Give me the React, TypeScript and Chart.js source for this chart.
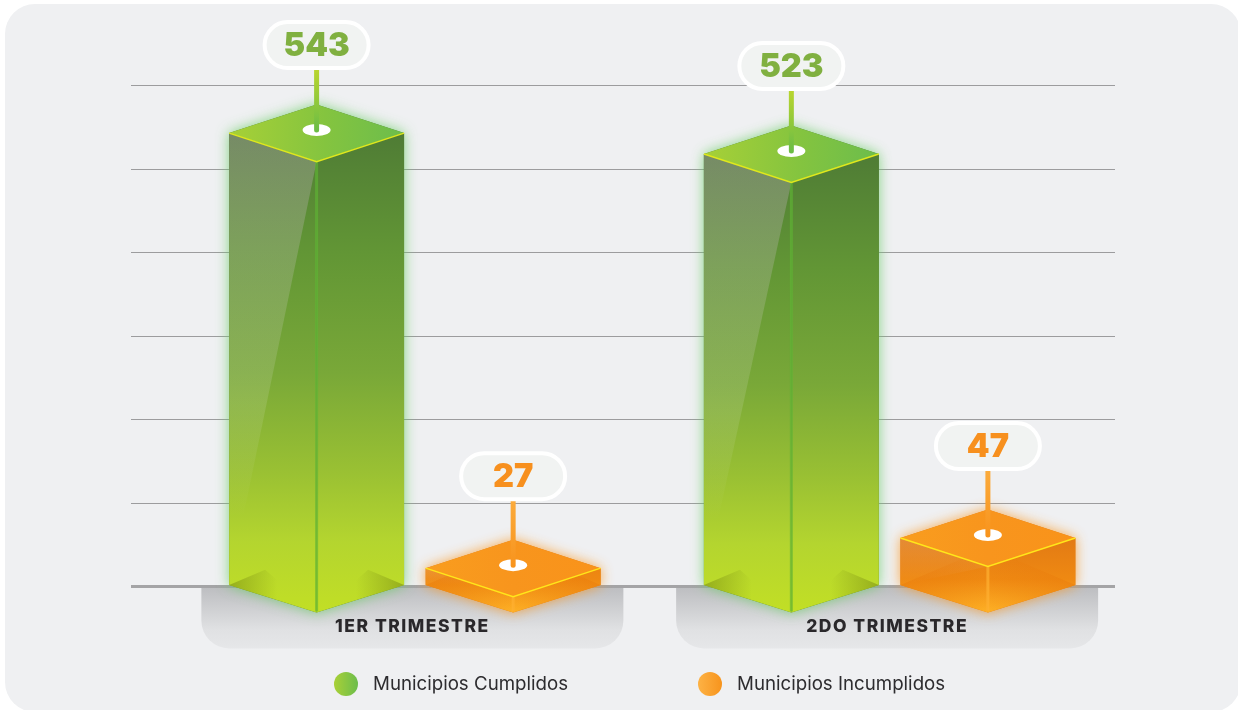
import React, { useEffect, useRef } from "react";
import { Chart, registerables } from "chart.js";

Chart.register(...registerables);

const categories = ["1ER TRIMESTRE", "2DO TRIMESTRE"];
const seriesNames = ["Municipios Cumplidos", "Municipios Incumplidos"];
// printed on the pins
const cumplidosLabels = [543, 523];
const incumplidosLabels = [27, 47];
// drawn heights as read against the gridlines
const cumplidosHeights = [543, 518];
const incumplidosHeights = [22, 58];
const yTicksMax = 600;
const yTickStep = 100;

const FONT = "Inter, 'Noto Sans', sans-serif";

type Ramp = [number, string][];
interface Look {
  ramp: Ramp;
  rampSpan: number | null;
  top: Ramp;
  glow: string;
  topEdge: string;
  spine: string;
  corner: string;
  cornerReach: number;
  text: string;
  stem: Ramp;
  pillRise: number;
  glare: Ramp | null;
}

const greenLook: Look = {
  ramp: [[0, "#4f7c35"], [0.25, "#629635"], [0.5, "#79a838"], [0.7, "#99c033"], [0.85, "#b4d52f"], [1, "#c2df25"]],
  rampSpan: null,
  top: [[0, "#a7d037"], [0.55, "#84c43f"], [1, "#6cbd4c"]],
  glow: "rgba(105,205,100,0.8)",
  topEdge: "#e0e81c",
  spine: "rgba(96,182,52,0.65)",
  corner: "rgba(125,145,20,0.6)",
  cornerReach: 48,
  text: "#80b040",
  stem: [[0, "#b9d52f"], [1, "#6cbd45"]],
  pillRise: 63.5,
  glare: [[0, "rgba(225,180,235,0.27)"], [0.6, "rgba(232,236,222,0.14)"], [0.85, "rgba(232,236,222,0)"]],
};

const orangeLook: Look = {
  ramp: [[0, "#e27a14"], [0.55, "#ef8912"], [1, "#feb226"]],
  rampSpan: 76,
  top: [[0, "#f99d1e"], [0.5, "#f8951d"], [1, "#f9931a"]],
  glow: "rgba(250,150,30,0.8)",
  topEdge: "#ffe61a",
  spine: "rgba(255,176,50,0.7)",
  corner: "rgba(232,120,10,0.42)",
  cornerReach: 87,
  text: "#f7901e",
  stem: [[0, "#fbab3c"], [1, "#f8941d"]],
  pillRise: 67.5,
  glare: [[0, "rgba(235,200,170,0.22)"], [1, "rgba(235,200,170,0)"]],
};

const looks = [greenLook, orangeLook];
const printed = [cumplidosLabels, incumplidosLabels];

function vGrad(ctx: CanvasRenderingContext2D, y0: number, y1: number, ramp: Ramp) {
  const g = ctx.createLinearGradient(0, y0, 0, y1);
  ramp.forEach(([o, c]) => g.addColorStop(o, c));
  return g;
}
function hGrad(ctx: CanvasRenderingContext2D, x0: number, x1: number, ramp: Ramp) {
  const g = ctx.createLinearGradient(x0, 0, x1, 0);
  ramp.forEach(([o, c]) => g.addColorStop(o, c));
  return g;
}
function poly(ctx: CanvasRenderingContext2D, pts: number[][]) {
  ctx.beginPath();
  pts.forEach(([x, y], i) => (i ? ctx.lineTo(x, y) : ctx.moveTo(x, y)));
  ctx.closePath();
}

function drawPrism(ctx: CanvasRenderingContext2D, cx: number, top: number, base: number, w: number, look: Look, label: number) {
  const hw = w / 2;
  const d = 28.5;
  const L = cx - hw;
  const R = cx + hw;
  const silhouette = [[L, top], [cx, top - d], [R, top], [R, base], [cx, base + d - 1], [L, base]];

  ctx.save();
  ctx.shadowColor = look.glow;
  ctx.shadowBlur = 13;
  ctx.fillStyle = look.ramp[0][1];
  poly(ctx, silhouette);
  ctx.fill();
  ctx.restore();

  // side faces
  const faceTop = look.rampSpan ? base + d - look.rampSpan : top;
  const faces = vGrad(ctx, faceTop, base + d, look.ramp);
  ctx.fillStyle = faces;
  poly(ctx, [[L, top], [cx, top + d], [cx, base + d - 1], [L, base]]);
  ctx.fill();
  poly(ctx, [[R, top], [cx, top + d], [cx, base + d - 1], [R, base]]);
  ctx.fill();

  // glare on the left face
  if (look.glare) {
    ctx.fillStyle = vGrad(ctx, top, base, look.glare);
    poly(ctx, [[L, top], [cx, top + d], [L, base]]);
    ctx.fill();
  }

  // corners showing through at the foot
  const reach = look.cornerReach;
  ctx.fillStyle = hGrad(ctx, L, L + reach, [[0, look.corner], [1, look.corner.replace(/[\d.]+\)$/, "0)")]]);
  poly(ctx, [[L, base], [L + reach * 0.75, base - reach * 0.32], [L + reach, base - reach * 0.1], [L + reach, base + reach * 0.32]]);
  ctx.fill();
  ctx.fillStyle = hGrad(ctx, R, R - reach, [[0, look.corner], [1, look.corner.replace(/[\d.]+\)$/, "0)")]]);
  poly(ctx, [[R, base], [R - reach * 0.75, base - reach * 0.32], [R - reach, base - reach * 0.1], [R - reach, base + reach * 0.32]]);
  ctx.fill();

  // front spine
  ctx.strokeStyle = look.spine;
  ctx.lineWidth = 3;
  ctx.beginPath();
  ctx.moveTo(cx, top + d);
  ctx.lineTo(cx, base + d - 2);
  ctx.stroke();

  // top face
  ctx.fillStyle = hGrad(ctx, L, R, look.top);
  poly(ctx, [[L, top], [cx, top - d], [R, top], [cx, top + d]]);
  ctx.fill();
  ctx.strokeStyle = look.topEdge;
  ctx.lineWidth = 1.5;
  ctx.beginPath();
  ctx.moveTo(L, top);
  ctx.lineTo(cx, top + d);
  ctx.lineTo(R, top);
  ctx.stroke();

  // pin socket
  const pinY = top - 3;
  ctx.fillStyle = "#ffffff";
  ctx.beginPath();
  ctx.ellipse(cx, pinY, 14, 6, 0, 0, Math.PI * 2);
  ctx.fill();

  // stem
  const pillBottom = top - look.pillRise;
  ctx.strokeStyle = vGrad(ctx, pillBottom, pinY, look.stem);
  ctx.lineWidth = 5;
  ctx.lineCap = "round";
  ctx.beginPath();
  ctx.moveTo(cx, pillBottom);
  ctx.lineTo(cx, pinY);
  ctx.stroke();
  ctx.lineCap = "butt";

  // pill with the printed value
  const pw = 104;
  const ph = 46;
  const py = pillBottom - ph - 1.5;
  ctx.fillStyle = "#f1f3f2";
  ctx.strokeStyle = "#ffffff";
  ctx.lineWidth = 4;
  ctx.beginPath();
  ctx.roundRect(cx - pw / 2, py, pw, ph, ph / 2);
  ctx.fill();
  ctx.stroke();

  ctx.fillStyle = look.text;
  ctx.font = `900 32.5px ${FONT}`;
  ctx.textAlign = "center";
  ctx.textBaseline = "middle";
  ctx.fillText(String(label), cx, py + ph / 2 + 1);
}

const sceneryPlugin = {
  id: "scenery",
  afterLayout(chart: any) {
    // categories sit on a narrower run than the gridlines
    const x = chart.scales.x;
    x.left = 177.5;
    x.right = 1127;
    x.width = x.right - x.left;
    x.configure();
  },
  beforeDraw(chart: any) {
    const { ctx, scales } = chart;
    ctx.save();
    ctx.fillStyle = "#ffffff";
    ctx.fillRect(0, 0, chart.width, chart.height);
    ctx.fillStyle = "#eff0f2";
    ctx.beginPath();
    ctx.roundRect(5, 4, 1236, 708, 30);
    ctx.fill();

    const base = scales.y.getPixelForValue(0);
    categories.forEach((_, i) => {
      const c = scales.x.getPixelForValue(i) - 2.5;
      const g = ctx.createLinearGradient(0, base, 0, base + 62);
      g.addColorStop(0, "#bcbdc0");
      g.addColorStop(0.7, "#e0e1e3");
      g.addColorStop(1, "#e6e7e9");
      ctx.fillStyle = g;
      ctx.beginPath();
      ctx.roundRect(c - 211, base, 422, 62, [0, 0, 28, 28]);
      ctx.fill();
    });
    ctx.restore();
    ctx.letterSpacing = "1.5px";
  },
  beforeDatasetsDraw(chart: any) {
    chart.ctx.letterSpacing = "0px";
  },
  afterDatasetsDraw(chart: any) {
    const { ctx } = chart;
    ctx.save();
    chart.data.datasets.forEach((_: any, s: number) => {
      chart.getDatasetMeta(s).data.forEach((el: any, i: number) => {
        drawPrism(ctx, el.x, el.y, el.base, el.width, looks[s], printed[s][i]);
      });
    });
    // legend
    const keys: [number, Ramp][] = [
      [346, [[0, "#a9d037"], [1, "#6cbd4c"]]],
      [710, [[0, "#fdb245"], [1, "#f7941d"]]],
    ];
    keys.forEach(([x, ramp], i) => {
      ctx.fillStyle = hGrad(ctx, x - 12, x + 12, ramp);
      ctx.beginPath();
      ctx.arc(x, 684, 12, 0, Math.PI * 2);
      ctx.fill();
      ctx.fillStyle = "#2d2c2f";
      ctx.font = `400 18.7px ${FONT}`;
      ctx.textAlign = "left";
      ctx.textBaseline = "middle";
      ctx.fillText(seriesNames[i], x + 27, 684.5);
    });
    ctx.restore();
  },
};

export default function App() {
  const ref = useRef<HTMLCanvasElement>(null);
  useEffect(() => {
    const chart = new Chart(ref.current as HTMLCanvasElement, {
      type: "bar",
      data: {
        labels: categories,
        datasets: [
          { label: seriesNames[0], data: cumplidosHeights, backgroundColor: "transparent", categoryPercentage: 0.828, barPercentage: 0.89 },
          { label: seriesNames[1], data: incumplidosHeights, backgroundColor: "transparent", categoryPercentage: 0.828, barPercentage: 0.89 },
        ],
      },
      options: {
        responsive: false,
        animation: false,
        layout: { padding: { left: 131, right: 123, top: 85.5, bottom: 0 } },
        plugins: { legend: { display: false }, tooltip: { enabled: false } },
        scales: {
          x: {
            grid: { display: false },
            border: { display: false },
            afterFit: (s: any) => {
              s.height = 123.5;
            },
            ticks: {
              padding: 22,
              labelOffset: -2.5,
              maxRotation: 0,
              color: "#2a282b",
              font: { family: FONT, size: 17.5, weight: "800" },
            },
          },
          y: {
            min: 0,
            max: yTicksMax,
            border: { display: false },
            grid: {
              drawTicks: false,
              color: (c: any) => (c.tick.value === 0 ? "#a4a4a6" : "#9c9c9e"),
              lineWidth: (c: any) => (c.tick.value === 0 ? 3 : 1),
            },
            ticks: { display: false, stepSize: yTickStep },
          },
        },
      },
      plugins: [sceneryPlugin],
    } as any);
    return () => chart.destroy();
  }, []);
  return (
    <div style={{ position: "absolute", left: 0, top: 0, width: 1238, height: 710 }}>
      <canvas ref={ref} width={1238} height={710} style={{ display: "block" }} />
    </div>
  );
}
